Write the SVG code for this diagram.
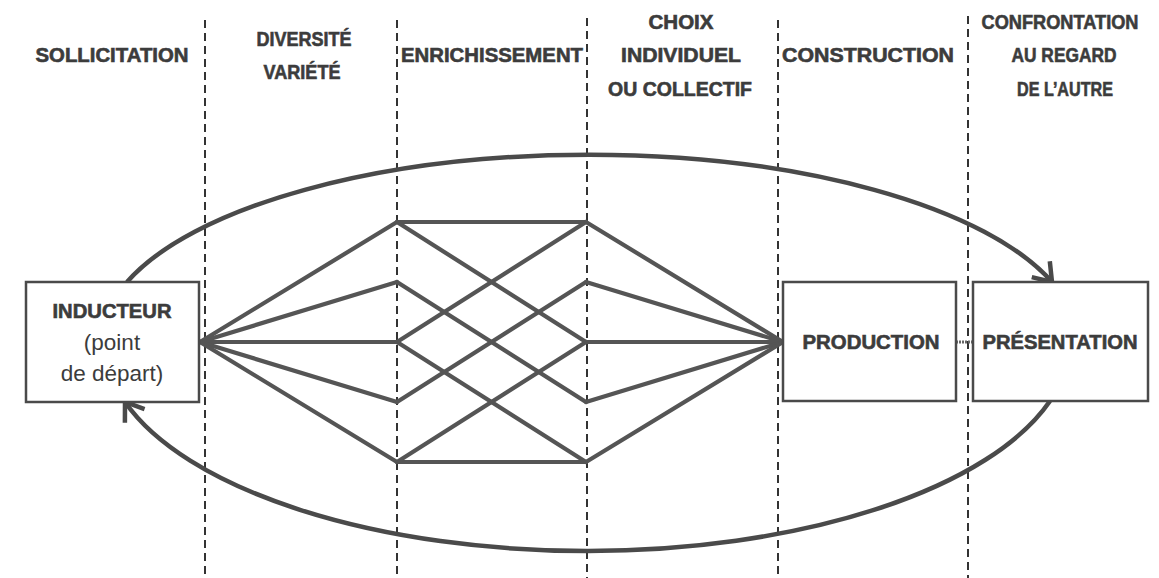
<svg xmlns="http://www.w3.org/2000/svg" width="1159" height="578" viewBox="0 0 1159 578">
<defs>
<style>
.bg{fill:#ffffff}
.sep{stroke:#333;stroke-width:2;stroke-dasharray:8 5;fill:none}
.hd{font-family:"Liberation Sans",Arial,sans-serif;font-weight:bold;font-size:19.5px;fill:#3c3c3c;stroke:#3c3c3c;stroke-width:0.6;text-anchor:middle}
.bt{font-family:"Liberation Sans",Arial,sans-serif;font-weight:bold;font-size:19.5px;fill:#3c3c3c;stroke:#3c3c3c;stroke-width:0.6;text-anchor:middle}
.rt{font-family:"Liberation Sans",Arial,sans-serif;font-size:22.5px;fill:#3c3c3c;text-anchor:middle}
.box{fill:#ffffff;stroke:#4a4a4a;stroke-width:2.5}
.ln{stroke:#555;stroke-width:4.2;fill:none;stroke-linecap:round}
.loop{stroke:#4a4a4a;stroke-width:4.5;fill:none}
</style>
<marker id="chev" markerUnits="userSpaceOnUse" viewBox="-22 -16 26 32" markerWidth="26" markerHeight="32" refX="0" refY="0" orient="auto" overflow="visible">
<path d="M-17,-12 L0,0 L-17,12" fill="none" stroke="#4a4a4a" stroke-width="4.5" stroke-linejoin="miter"/>
</marker>
</defs>
<rect class="bg" x="0" y="0" width="1159" height="578"/>
<g id="separators">
<line class="sep" x1="205" y1="20" x2="205" y2="578"/>
<line class="sep" x1="397" y1="20" x2="397" y2="578"/>
<line class="sep" x1="587" y1="18" x2="587" y2="578"/>
<line class="sep" x1="778" y1="20" x2="778" y2="578"/>
<line class="sep" x1="968" y1="16" x2="968" y2="578"/>
</g>
<g id="headers">
<text class="hd" x="112" y="62" textLength="153" lengthAdjust="spacingAndGlyphs">SOLLICITATION</text>
<text class="hd" x="304" y="46" textLength="95" lengthAdjust="spacingAndGlyphs">DIVERSITÉ</text>
<text class="hd" x="302" y="79" textLength="77" lengthAdjust="spacingAndGlyphs">VARIÉTÉ</text>
<text class="hd" x="492" y="62" textLength="182" lengthAdjust="spacingAndGlyphs">ENRICHISSEMENT</text>
<text class="hd" x="681" y="29" textLength="65" lengthAdjust="spacingAndGlyphs">CHOIX</text>
<text class="hd" x="681" y="62" textLength="120" lengthAdjust="spacingAndGlyphs">INDIVIDUEL</text>
<text class="hd" x="680" y="96" textLength="144" lengthAdjust="spacingAndGlyphs">OU COLLECTIF</text>
<text class="hd" x="868" y="62" textLength="172" lengthAdjust="spacingAndGlyphs">CONSTRUCTION</text>
<text class="hd" x="1060" y="29" textLength="157" lengthAdjust="spacingAndGlyphs">CONFRONTATION</text>
<text class="hd" x="1064" y="62" textLength="105" lengthAdjust="spacingAndGlyphs">AU REGARD</text>
<text class="hd" x="1065" y="96" textLength="96" lengthAdjust="spacingAndGlyphs">DE L’AUTRE</text>
</g>
<g id="connectors">
<path class="loop" d="M127,282 A488,187 0 0,1 1052,282" marker-end="url(#chev)"/>
<path class="loop" d="M1050,401 A483,210 0 0,1 125,402" marker-end="url(#chev)"/>
<g id="fan-left">
<line class="ln" x1="200" y1="342" x2="397" y2="222"/>
<line class="ln" x1="200" y1="342" x2="397" y2="282"/>
<line class="ln" x1="200" y1="342" x2="397" y2="342"/>
<line class="ln" x1="200" y1="342" x2="397" y2="402"/>
<line class="ln" x1="200" y1="342" x2="397" y2="462"/>
</g>
<g id="mesh">
<line class="ln" x1="397" y1="222" x2="586" y2="222"/>
<line class="ln" x1="397" y1="462" x2="586" y2="462"/>
<line class="ln" x1="397" y1="222" x2="586" y2="342"/>
<line class="ln" x1="397" y1="282" x2="586" y2="402"/>
<line class="ln" x1="397" y1="342" x2="586" y2="462"/>
<line class="ln" x1="586" y1="222" x2="397" y2="342"/>
<line class="ln" x1="586" y1="282" x2="397" y2="402"/>
<line class="ln" x1="586" y1="342" x2="397" y2="462"/>
</g>
<g id="fan-right">
<line class="ln" x1="586" y1="222" x2="783" y2="342"/>
<line class="ln" x1="586" y1="282" x2="783" y2="342"/>
<line class="ln" x1="586" y1="342" x2="783" y2="342"/>
<line class="ln" x1="586" y1="402" x2="783" y2="342"/>
<line class="ln" x1="586" y1="462" x2="783" y2="342"/>
</g>
<line stroke="#666" stroke-width="3" stroke-dasharray="2 1" x1="956" y1="342" x2="973" y2="342"/>
</g>
<g id="inducteur">
<rect class="box" x="26" y="282" width="173" height="120"/>
<text class="bt" x="112" y="318" textLength="119" lengthAdjust="spacingAndGlyphs">INDUCTEUR</text>
<text class="rt" x="112" y="350">(point</text>
<text class="rt" x="112" y="381">de départ)</text>
</g>
<g id="production">
<rect class="box" x="783" y="282" width="173" height="119"/>
<text class="bt" x="871" y="349" textLength="137" lengthAdjust="spacingAndGlyphs">PRODUCTION</text>
</g>
<g id="presentation">
<rect class="box" x="973" y="282" width="175" height="119"/>
<text class="bt" x="1060" y="349" textLength="155" lengthAdjust="spacingAndGlyphs">PRÉSENTATION</text>
</g>
</svg>
